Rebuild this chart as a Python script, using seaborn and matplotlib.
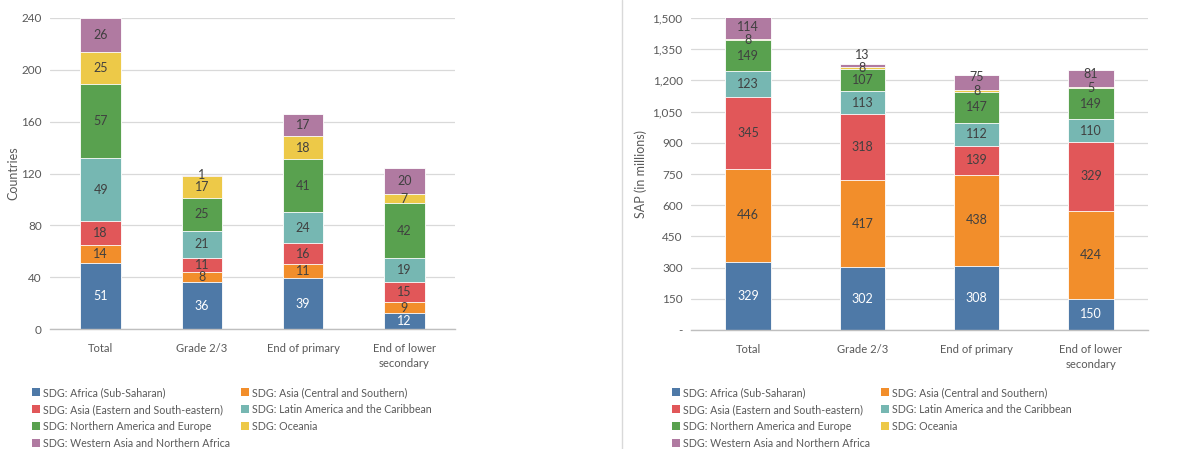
import numpy as np
import pandas as pd
import matplotlib
matplotlib.use("Agg")
import matplotlib.pyplot as plt
import seaborn as sns
from matplotlib.patches import Patch
from matplotlib.lines import Line2D
from matplotlib.ticker import FuncFormatter, MultipleLocator

sns.set_theme(style="white")
plt.rcParams['font.family'] = ['Lato', 'DejaVu Sans']

categories = ["Total", "Grade 2/3", "End of primary", "End of lower\nsecondary"]
regions = [
    "SDG: Africa (Sub-Saharan)",
    "SDG: Asia (Central and Southern)",
    "SDG: Asia (Eastern and South-eastern)",
    "SDG: Latin America and the Caribbean",
    "SDG: Northern America and Europe",
    "SDG: Oceania",
    "SDG: Western Asia and Northern Africa",
]
colors = ["#4E79A7", "#F28E2B", "#E15759", "#76B7B2", "#59A14F", "#EDC948", "#B07AA1"]

# Countries per region (left chart)
countries_africa = [51, 36, 39, 12]
countries_asia_cs = [14, 8, 11, 9]
countries_asia_ese = [18, 11, 16, 15]
countries_latam = [49, 21, 24, 19]
countries_nae = [57, 25, 41, 42]
countries_oceania = [25, 17, 18, 7]
countries_wana = [26, 1, 17, 20]

# SAP in millions (right chart)
sap_africa = [329, 302, 308, 150]
sap_asia_cs = [446, 417, 438, 424]
sap_asia_ese = [345, 318, 139, 329]
sap_latam = [123, 113, 112, 110]
sap_nae = [149, 107, 147, 149]
sap_oceania = [8, 8, 8, 5]
sap_wana = [114, 13, 75, 81]

left_series = [countries_africa, countries_asia_cs, countries_asia_ese, countries_latam,
               countries_nae, countries_oceania, countries_wana]
right_series = [sap_africa, sap_asia_cs, sap_asia_ese, sap_latam, sap_nae, sap_oceania, sap_wana]

W, H = 1183, 449
fig = plt.figure(figsize=(W / 100, H / 100), dpi=100)
fig.patch.set_facecolor("white")

txt_color = "#404040"
tick_color = "#595959"
grid_color = "#D9D9D9"
FS = 8.5
FS_TXT = 7.7


def draw(ax, series, ymax, step, ylabel, fmt, nudges, ylabelpad):
    df = pd.DataFrame({r: s for r, s in zip(regions, series)}, index=categories)
    cum = df.cumsum(axis=1)
    # draw from top (largest cumulative) down so lower segments overlay
    for i in range(len(regions) - 1, -1, -1):
        d = pd.DataFrame({"cat": categories, "val": cum.iloc[:, i].values})
        sns.barplot(data=d, x="cat", y="val", color=colors[i], width=0.4,
                    saturation=1, ax=ax, linewidth=0.6, edgecolor="white")
    # labels
    for i, r in enumerate(regions):
        for j, c in enumerate(categories):
            v = df.loc[c, r]
            mid = cum.loc[c, r] - v / 2
            mid += nudges.get((i, j), 0)
            ax.text(j, mid, f"{v}", ha="center", va="center", fontsize=FS + 0.5,
                    color="white" if i == 0 else txt_color)
    ax.set_xlim(-0.5, 3.5)
    ax.set_ylim(0, ymax)
    ax.yaxis.set_major_locator(MultipleLocator(step))
    ax.yaxis.set_major_formatter(FuncFormatter(fmt))
    ax.grid(axis="y", color=grid_color, linewidth=0.9)
    ax.set_axisbelow(True)
    for s in ["top", "right", "left"]:
        ax.spines[s].set_visible(False)
    ax.spines["bottom"].set_color("#BFBFBF")
    ax.spines["bottom"].set_linewidth(1.0)
    ax.set_xlabel("")
    ax.set_ylabel(ylabel, fontsize=9, color=tick_color, labelpad=ylabelpad)
    ax.set_xticks(range(len(categories)))
    ax.set_xticklabels(categories, fontsize=FS_TXT + 0.4, color=tick_color, linespacing=1.5)
    ax.tick_params(axis="x", length=0, pad=10)
    ax.set_xticks(np.arange(-0.5, 4, 1), minor=True)
    ax.tick_params(axis="x", which="minor", length=5, color="#BFBFBF", width=1)
    ax.tick_params(axis="y", length=0, labelsize=FS, labelcolor=tick_color, pad=6)


ax1 = fig.add_axes([50 / W, 1 - 329 / H, 405 / W, 311 / H])
draw(ax1, left_series, 240, 40, "Countries", lambda v, p: f"{int(v)}", {}, 1)

ax2 = fig.add_axes([691 / W, 1 - 330 / H, 457 / W, 312 / H])
nud = {(6, 1): 50, (6, 2): 25, (6, 3): 25}
draw(ax2, right_series, 1500, 150, "SAP (in millions)",
     lambda v, p: "-" if v == 0 else f"{int(v):,}", nud, 4)

# legends (row-major order as in reference -> reorder for column-major fill)
order = [0, 2, 4, 6, 1, 3, 5]
handles = [Patch(facecolor=colors[k], edgecolor="none") for k in order]
labels = [regions[k] for k in order]
for x0 in (32 / W, 672 / W):
    fig.legend(handles, labels, loc="upper left", bbox_to_anchor=(x0, 1 - 387 / H),
               ncol=2, frameon=False, fontsize=FS_TXT, handlelength=0.75, handleheight=0.75,
               handletextpad=0.3, labelspacing=0.55, columnspacing=1.0,
               borderaxespad=0, borderpad=0, labelcolor=tick_color)

# divider between the two panels
fig.add_artist(Line2D([622 / W, 622 / W], [0, 1], transform=fig.transFigure,
                      color="#D9D9D9", linewidth=1))

fig.savefig("out.png", dpi=100, facecolor="white")
